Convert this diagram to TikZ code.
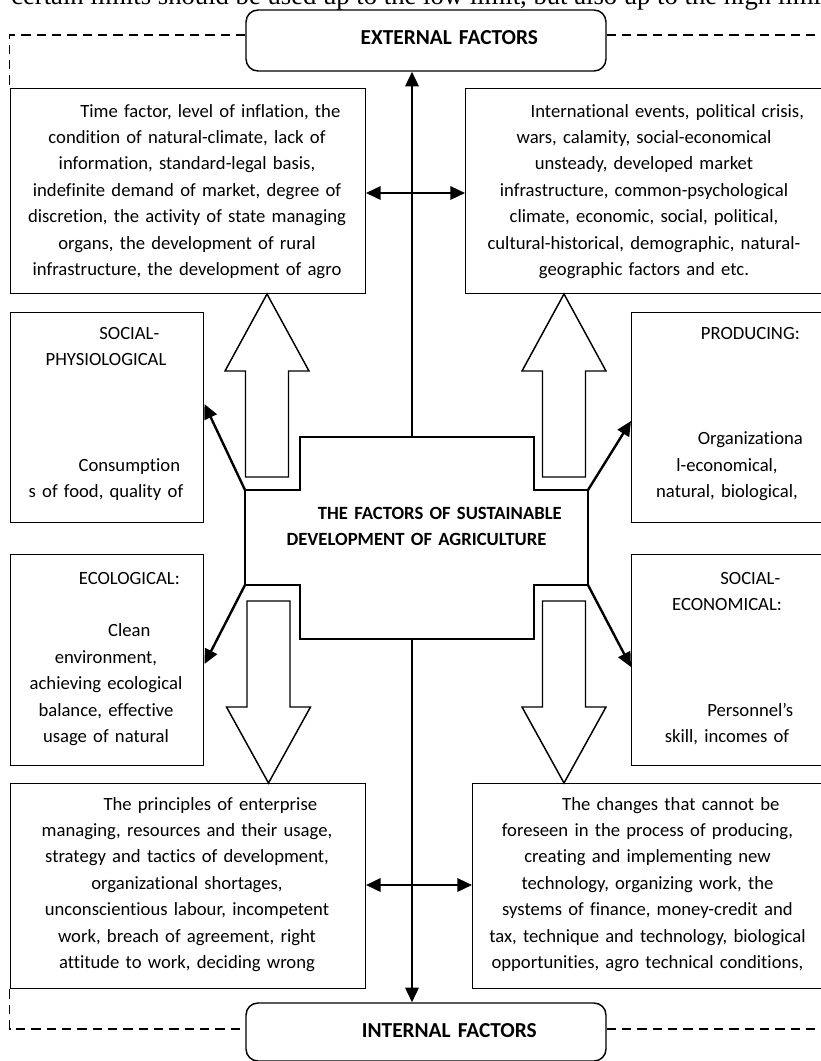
\documentclass[tikz,border=0pt]{standalone}
\usepackage{fontspec}
\setmainfont{Carlito}[Ligatures={NoCommon,NoRare,NoContextual}]
\newfontfamily\topserif{Liberation Serif}
\usetikzlibrary{arrows.meta,calc}
\tikzset{
  wh/.style 2 args={minimum width={#1*0.75pt}, minimum height={#2*0.75pt}},
  tw/.style={text width={#1*0.75pt}},
  boxframe/.style={draw, line width=1.1pt, inner sep=0pt, anchor=north west},
  rframe/.style={draw, line width=1.1pt, rounded corners=9pt, inner sep=0pt},
  btxt/.style={inner sep=0pt, anchor=base, align=center, font=\fontsize{14}{19.8}\selectfont},
  htxt/.style={inner sep=0pt, anchor=base, align=center, font=\fontsize{14}{19.8}\selectfont\bfseries},
  ttxt/.style={inner sep=0pt, anchor=base, align=center, font=\fontsize{16}{19.8}\selectfont\bfseries},
  conn/.style={line width=1.8pt, -{Triangle[length=11pt,width=10pt]}},
  dconn/.style={line width=1.8pt, {Triangle[length=11pt,width=10pt]}-{Triangle[length=11pt,width=10pt]}},
  dashline/.style={line width=1pt, dash pattern=on 7pt off 4.5pt},
  hollow/.style={draw, line width=1.1pt, fill=white, line join=miter},
  core/.style={draw, line width=1.4pt, line join=miter},
}
\newcommand{\ind}{\hspace*{35pt}}
\begin{document}
\begin{tikzpicture}[x=0.75pt,y=-0.75pt]
\useasboundingbox (0,0) rectangle (821,1061);
\fill[white] (0,0) rectangle (821,1061);

% cut-off line of body text at the top
\node[anchor=base west, inner sep=0pt, font=\topserif\fontsize{20}{24}\selectfont] (toptext) at (11,4)
  {certain limits should be used up to the low limit, but also up to the high limit};

% top and bottom rounded boxes
\node[rframe, wh={360}{61}] (ext) at (426,40.5) {};
\node[ttxt, tw=345] (exttx) at (426,44.5) {\ind EXTERNAL FACTORS};
\node[rframe, wh={360}{58}] (int) at (426,1032) {};
\node[ttxt, tw=345] (inttx) at (426,1037.5) {\ind INTERNAL FACTORS};

% rectangular boxes
\node[boxframe, wh={355}{205}] (ul) at (9.5,88) {};
\node[boxframe, wh={358}{205}] (ur) at (465,88) {};
\node[boxframe, wh={193.5}{210}] (sp) at (9.5,312) {};
\node[boxframe, wh={192}{210}] (pr) at (631,312) {};
\node[boxframe, wh={193.5}{211}] (ec) at (9.5,554) {};
\node[boxframe, wh={192}{211}] (se) at (631,554) {};
\node[boxframe, wh={355}{205}] (bl) at (9.5,783) {};
\node[boxframe, wh={351}{205}] (br) at (472,783) {};

% texts of the boxes
\node[btxt, tw=345] (ultx) at (187,117) {\ind Time factor, level of inflation, the\\ condition of natural-climate, lack of\\ information, standard-legal basis,\\ indefinite demand of market, degree of\\ discretion, the activity of state managing\\ organs, the development of rural\\ infrastructure, the development of agro};
\node[btxt, tw=345] (urtx) at (644,117) {\ind International events, political crisis,\\ wars, calamity, social-economical\\ unsteady, developed market\\ infrastructure, common-psychological\\ climate, economic, social, political,\\ cultural-historical, demographic, natural-\\ geographic factors and etc.};
\node[btxt, tw=185] (sptx) at (106,339) {\ind SOCIAL-\\ PHYSIOLOGICAL\\ \mbox{}\\ \mbox{}\\ \mbox{}\\ \ind Consumption\\ s of food, quality of};
\node[btxt, tw=185] (prtx) at (727,339) {\ind PRODUCING:\\ \mbox{}\\ \mbox{}\\ \mbox{}\\ \ind Organizationa\\ l-economical,\\ natural, biological,};
\node[btxt, tw=185] (ectx) at (106,584) {\ind ECOLOGICAL:\\ \mbox{}\\ \ind Clean\\ environment,\\ achieving ecological\\ balance, effective\\ usage of natural};
\node[btxt, tw=185] (setx) at (727,584) {\ind SOCIAL-\\ ECONOMICAL:\\ \mbox{}\\ \mbox{}\\ \mbox{}\\ \ind Personnel’s\\ skill, incomes of};
\node[btxt, tw=345] (bltx) at (187,810) {\ind The principles of enterprise\\ managing, resources and their usage,\\ strategy and tactics of development,\\ organizational shortages,\\ unconscientious labour, incompetent\\ work, breach of agreement, right\\ attitude to work, deciding wrong};
\node[btxt, tw=345] (brtx) at (647.5,810) {\ind The changes that cannot be\\ foreseen in the process of producing,\\ creating and implementing new\\ technology, organizing work, the\\ systems of finance, money-credit and\\ tax, technique and technology, biological\\ opportunities, agro technical conditions,};

% central shape
\coordinate (c1) at (300,437);
\coordinate (ctop) at (412,437);
\coordinate (c2) at (534,437);
\coordinate (c3) at (534,490);
\coordinate (cUR) at (588,490);
\coordinate (cLR) at (588,585);
\coordinate (c6) at (534,585);
\coordinate (c7) at (534,639);
\coordinate (cbot) at (412,639);
\coordinate (c8) at (300,639);
\coordinate (c9) at (300,585);
\coordinate (cLL) at (245,585);
\coordinate (cUL) at (245,490);
\coordinate (c12) at (300,490);
\draw[core] (c1) -- (c2) -- (c3) -- (cUR) -- (cLR) -- (c6) -- (c7) -- (c8) -- (c9) -- (cLL) -- (cUL) -- (c12) -- cycle;
\node[htxt, tw=320] (coretx) at (416.5,519) {\ind THE FACTORS OF SUSTAINABLE\\ DEVELOPMENT OF AGRICULTURE};

% hollow block arrows
\draw[hollow] (245.5,477) -- (288.5,477) -- (288.5,371) -- (309,371) -- (267,294) -- (225,371) -- (245.5,371) -- cycle;
\draw[hollow] (542.5,477) -- (585.5,477) -- (585.5,371) -- (606,371) -- (564,294) -- (522,371) -- (542.5,371) -- cycle;
\draw[hollow] (247,601) -- (290,601) -- (290,707) -- (310.5,707) -- (268.5,783) -- (226.5,707) -- (247,707) -- cycle;
\draw[hollow] (542.5,601) -- (585.5,601) -- (585.5,707) -- (606,707) -- (564,783) -- (522,707) -- (542.5,707) -- cycle;

% connectors
\draw[conn] (ctop) -- (ctop |- ext.south);
\draw[conn] (cbot) -- (cbot |- int.north);
\draw[dconn] (ul.east |- 0,193) -- (ur.west |- 0,193);
\draw[dconn] (bl.east |- 0,885) -- (br.west |- 0,885);
\draw[conn] (cUL) -- (sp.east |- 0,404);
\draw[conn] (cUR) -- (pr.west |- 0,421);
\draw[conn] (cLL) -- (ec.east |- 0,664);
\draw[conn] (cLR) -- (se.west |- 0,667);

% dashed frame lines
\draw[dashline] (ext.west |- 0,35) -| (ul.north west);
\draw[dashline] (ext.east |- 0,35) -- (830,35);
\draw[dashline] (bl.south west) |- (int.west |- 0,1029);
\draw[dashline] (int.east |- 0,1029) -- (830,1029);
\end{tikzpicture}
\end{document}
